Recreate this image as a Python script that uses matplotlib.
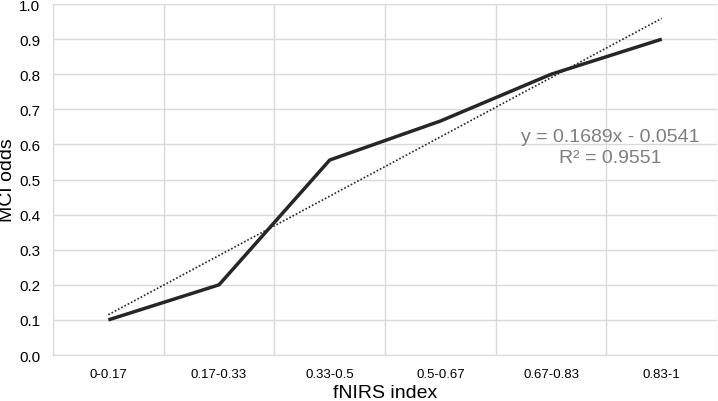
import numpy as np
import matplotlib.pyplot as plt

plt.rcParams['font.family'] = ['Liberation Sans', 'DejaVu Sans']

categories = ['0-0.17', '0.17-0.33', '0.33-0.5', '0.5-0.67', '0.67-0.83', '0.83-1']
mci_odds = [0.1, 0.2, 0.5556, 0.6667, 0.8, 0.9]
eq_text = 'y = 0.1689x - 0.0541'
r2_text = 'R² = 0.9551'

x = np.arange(1, len(categories) + 1)
slope, intercept = np.polyfit(x, mci_odds, 1)
fit = slope * x + intercept

fig = plt.figure(figsize=(7.18, 4.02), dpi=100)
ax = fig.add_axes([0.0738, 0.1144, 0.925, 0.873])

grid_c = '#d9d9d9'
ax.set_xlim(0.5, 6.5)
ax.set_ylim(0, 1.0)
yt = np.arange(0, 1.01, 0.1)
ax.set_yticks(yt)
ax.set_yticklabels(['%.1f' % v for v in yt], fontsize=11)
ax.set_xticks(x)
ax.set_xticklabels(categories, fontsize=9.5)
ax.set_xticks(np.arange(0.5, 6.6, 1), minor=True)
ax.grid(True, which='major', axis='y', color=grid_c, lw=1)
ax.grid(True, which='minor', axis='x', color=grid_c, lw=1)
ax.tick_params(which='both', length=0)
ax.tick_params(axis='y', pad=9)
ax.tick_params(axis='x', pad=9)
for s in ['top', 'right']:
    ax.spines[s].set_visible(False)
ax.spines['left'].set_color(grid_c)
ax.spines['bottom'].set_color(grid_c)
ax.set_axisbelow(True)

ax.plot(x, mci_odds, color='#262626', lw=2.5, solid_capstyle='butt')
ax.plot(x, fit, color='#262626', lw=1.2, ls=(0, (1, 1.2)))

ax.text(5.53, 0.624, eq_text, color='#7f7f7f', fontsize=14, ha='center', va='center')
ax.text(5.53, 0.562, r2_text, color='#7f7f7f', fontsize=14, ha='center', va='center')

fig.text(385 / 718, 1 - 394 / 402, 'fNIRS index', fontsize=14, ha='center', va='center')
fig.text(8 / 718, 1 - 180 / 402, 'MCI odds', fontsize=14, ha='center', va='center',
         rotation=90)

fig.savefig('out.png', dpi=100)
